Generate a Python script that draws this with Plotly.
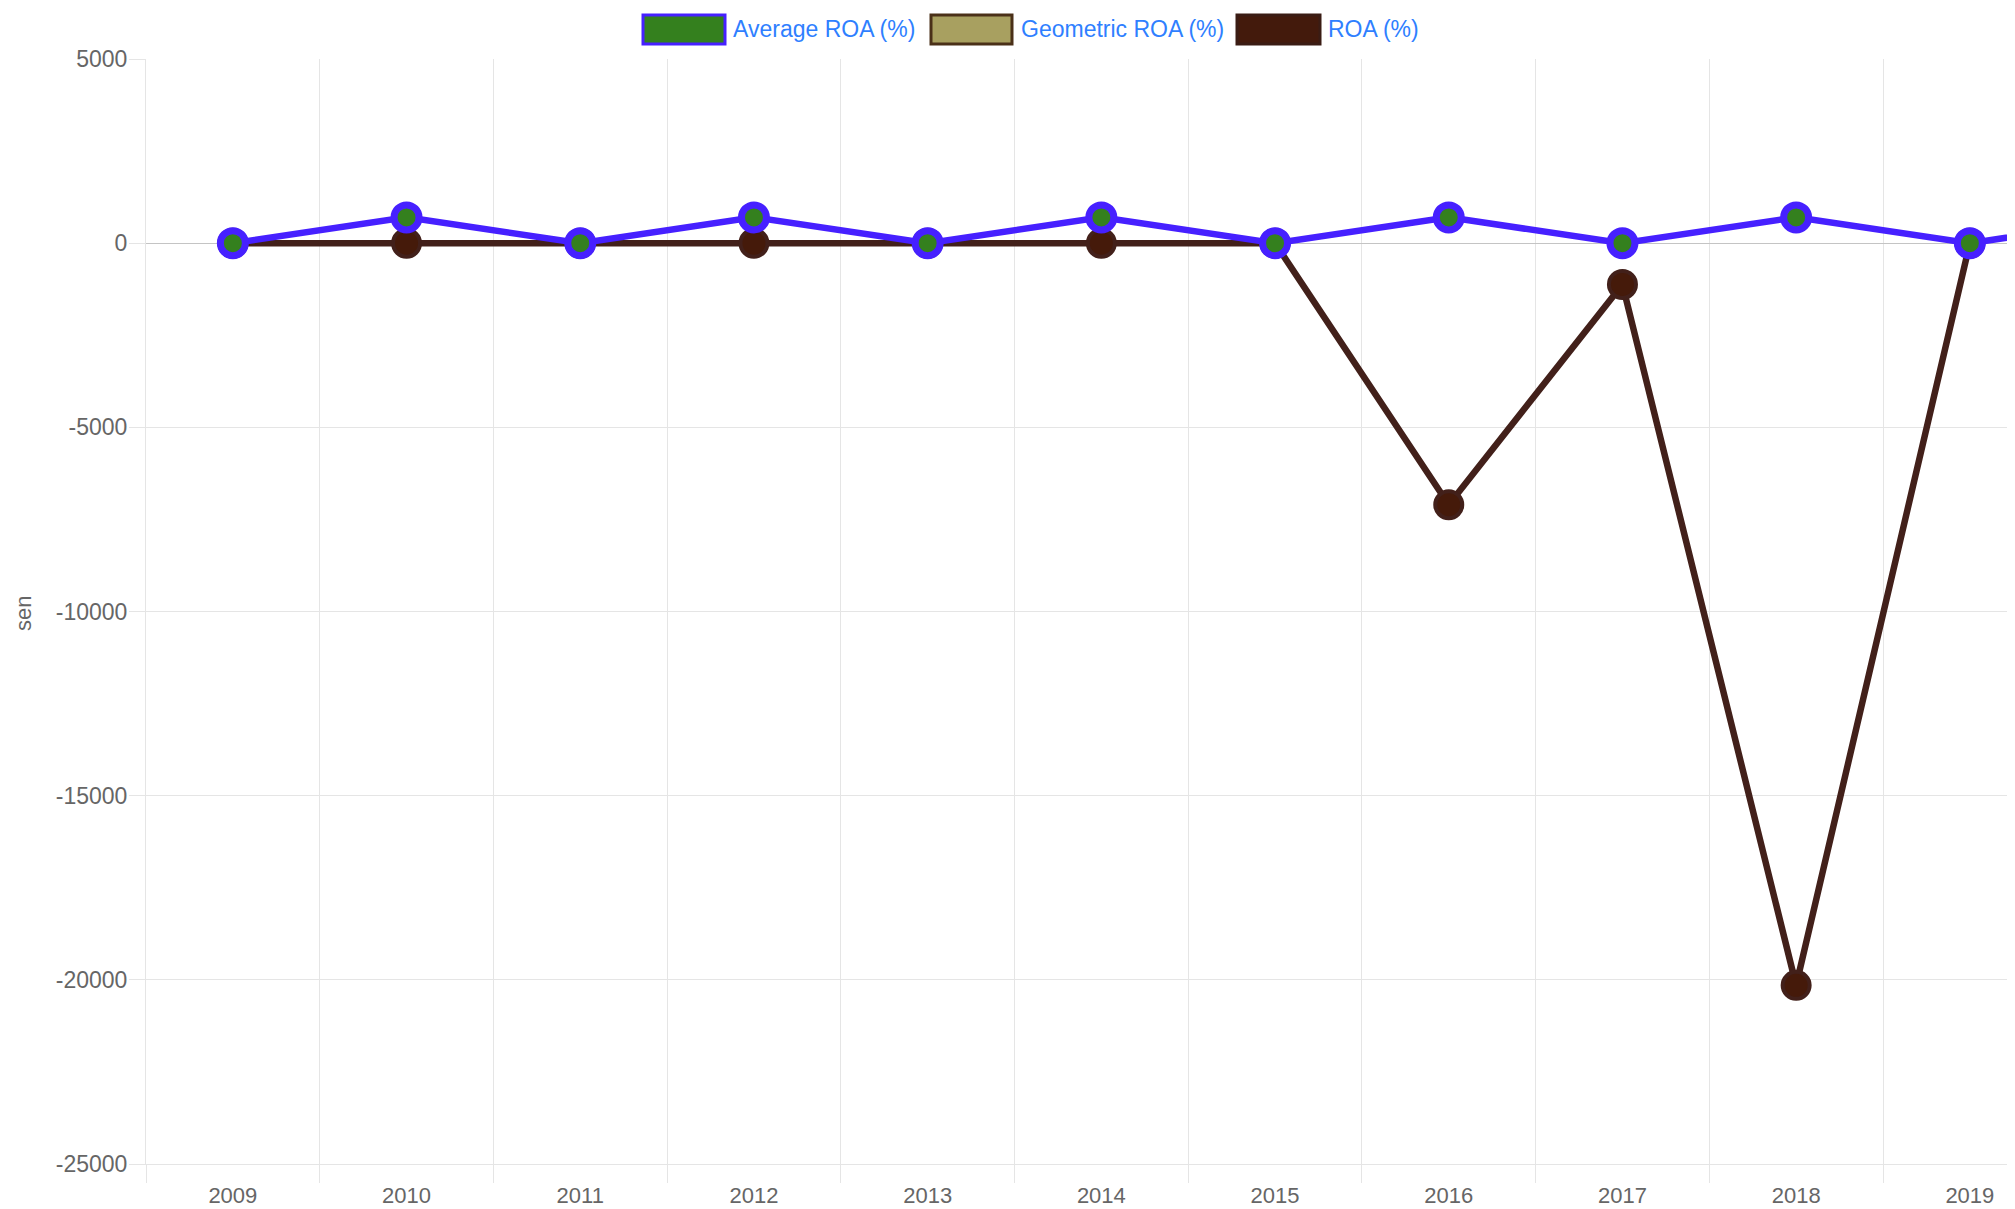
import plotly.graph_objects as go

years = ["2009", "2010", "2011", "2012", "2013", "2014", "2015", "2016", "2017", "2018", "2019", "2020"]
average_roa = [0, 700, 0, 700, 0, 700, 0, 700, 0, 700, 0, 700]
geometric_roa = [None] * 12
roa = [0, 0, 0, 0, 0, 0, 0, -7100, -1120, -20150, 0, None]

y_ticks = [5000, 0, -5000, -10000, -15000, -20000, -25000]

OFF = 8  # page body margin
W, H = 2015 - OFF, 1209 - OFF
L, T, B = 146 - OFF, 59 - OFF, 1164 - OFF
PW, PH = W - L, B - T

def px_x(p):
    return (p - OFF - L) / PW

def px_y(p):
    return (B - (p - OFF)) / PH

FONT = "Liberation Sans, Arial, Helvetica, sans-serif"
GRID = "#e5e5e5"
BLUE = "#4620ff"
GREEN = "#34801e"
BROWN_LINE = "#42201a"
BROWN_FILL = "#451a0a"

fig = go.Figure()
fig.add_trace(go.Scatter(
    x=years, y=roa, mode="lines+markers", name="ROA (%)",
    line=dict(color=BROWN_LINE, width=6.5),
    marker=dict(size=27, color=BROWN_FILL, line=dict(color=BROWN_LINE, width=4)),
))
fig.add_trace(go.Scatter(
    x=years, y=geometric_roa, mode="lines+markers", name="Geometric ROA (%)",
    line=dict(color="#4a3018", width=6),
    marker=dict(size=24, color="#a8a060", line=dict(color="#4a3018", width=6)),
))
fig.add_trace(go.Scatter(
    x=years, y=average_roa, mode="lines+markers", name="Average ROA (%)",
    line=dict(color=BLUE, width=6.5),
    marker=dict(size=25, color=GREEN, line=dict(color=BLUE, width=7)),
))

# custom legend (Chart.js style boxes), pixel positions in the screenshot
legend_items = [
    ("Average ROA (%)", GREEN, BLUE, 643, 725, 731),
    ("Geometric ROA (%)", "#a8a060", "#4a3018", 931, 1012, 1019),
    ("ROA (%)", "#431a0c", "#3a1c14", 1237, 1320, 1326),
]
shapes = []
annotations = []
for label, fill, border, x0, x1, tx in legend_items:
    shapes.append(dict(type="rect", xref="paper", yref="paper",
                       x0=px_x(x0), x1=px_x(x1), y0=px_y(44), y1=px_y(15),
                       fillcolor=fill, line=dict(color=border, width=3)))
    annotations.append(dict(text=label, xref="paper", yref="paper",
                            x=px_x(tx), y=px_y(29), xanchor="left", yanchor="middle",
                            showarrow=False, font=dict(family=FONT, size=23, color="#2f7fff")))

annotations.append(dict(text="sen", xref="paper", yref="paper", x=px_x(23), y=px_y(614),
                        xanchor="center", yanchor="middle", textangle=-90, showarrow=False,
                        font=dict(family=FONT, size=22, color="#666666")))

fig.update_layout(
    width=W, height=H,
    margin=dict(l=L, r=0, t=T, b=H - B, pad=0),
    paper_bgcolor="white", plot_bgcolor="white",
    showlegend=False,
    shapes=shapes, annotations=annotations,
    font=dict(family=FONT, size=23, color="#666666"),
)
fig.update_xaxes(
    type="category", categoryorder="array", categoryarray=years,
    range=[-0.5, -0.5 + PW / 173.7],
    tickson="boundaries", ticks="outside", ticklen=18, tickcolor=GRID,
    ticklabelstandoff=12,
    showgrid=True, gridcolor=GRID, gridwidth=1,
    showline=True, linecolor=GRID, linewidth=1,
    tickfont=dict(family=FONT, size=22, color="#666666"),
    zeroline=False,
)
fig.update_yaxes(
    range=[-25000, 5000], tickvals=y_ticks, ticktext=[str(v) for v in y_ticks],
    ticks="outside", ticklen=16, tickcolor=GRID, ticklabelstandoff=-3,
    showgrid=True, gridcolor=GRID, gridwidth=1,
    showline=True, linecolor=GRID, linewidth=1,
    zeroline=True, zerolinecolor="#c4c4c4", zerolinewidth=1,
    tickfont=dict(family=FONT, size=23, color="#666666"),
)

fig.write_html("out.html")
